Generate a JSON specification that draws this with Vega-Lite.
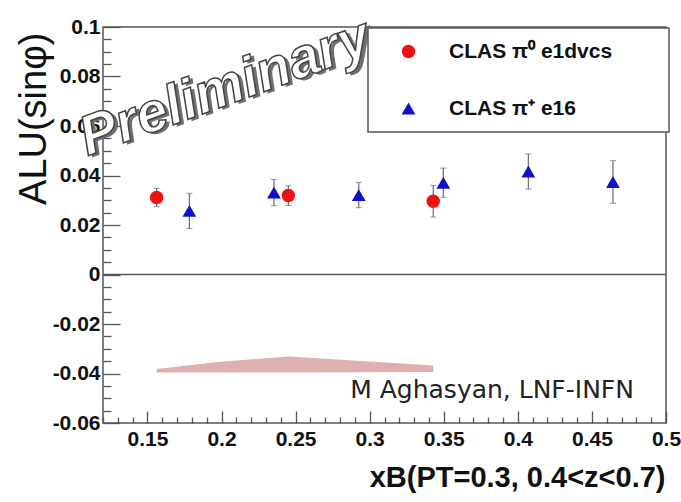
{
  "$schema": "https://vega.github.io/schema/vega-lite/v6.json",
  "width": 563,
  "height": 396,
  "autosize": {"type": "none"},
  "padding": {"left": 103, "top": 27, "right": 15, "bottom": 79},
  "background": "white",
  "datasets": {
    "points": [
      {"series": "CLAS π⁰ e1dvcs", "x": 0.1562, "y": 0.0311, "err": 0.0037},
      {"series": "CLAS π⁰ e1dvcs", "x": 0.2451, "y": 0.0319, "err": 0.0040},
      {"series": "CLAS π⁰ e1dvcs", "x": 0.3429, "y": 0.0296, "err": 0.0064},
      {"series": "CLAS π⁺ e16", "x": 0.1783, "y": 0.0257, "err": 0.0071},
      {"series": "CLAS π⁺ e16", "x": 0.2354, "y": 0.0331, "err": 0.0053},
      {"series": "CLAS π⁺ e16", "x": 0.2926, "y": 0.0321, "err": 0.0051},
      {"series": "CLAS π⁺ e16", "x": 0.3497, "y": 0.0371, "err": 0.0059},
      {"series": "CLAS π⁺ e16", "x": 0.4071, "y": 0.0416, "err": 0.0071},
      {"series": "CLAS π⁺ e16", "x": 0.4642, "y": 0.0374, "err": 0.0086}
    ],
    "band": [
      {"x": 0.1562, "y": -0.0396, "y2": -0.0382},
      {"x": 0.1990, "y": -0.0396, "y2": -0.0353},
      {"x": 0.2451, "y": -0.0396, "y2": -0.0331},
      {"x": 0.3429, "y": -0.0394, "y2": -0.0368}
    ],
    "notes": [
      {"label": "M Aghasyan, LNF-INFN", "x": 0.3826, "y": -0.0499}
    ],
    "stamp": [
      {"label": "Preliminary", "x": 0.2023, "y": 0.0754}
    ],
    "zero": [
      {"y": 0}
    ]
  },
  "config": {
    "view": {"stroke": "#555", "strokeWidth": 1.5},
    "font": "Liberation Sans",
    "legend": {"strokeWidth": 1.5}
  },
  "encoding": {
    "x": {
      "field": "x", "type": "quantitative",
      "scale": {"domain": [0.12, 0.5], "nice": false, "zero": false},
      "axis": {
        "values": [0.12,0.13,0.14,0.15,0.16,0.17,0.18,0.19,0.2,0.21,0.22,0.23,0.24,0.25,0.26,0.27,0.28,0.29,0.3,0.31,0.32,0.33,0.34,0.35,0.36,0.37,0.38,0.39,0.4,0.41,0.42,0.43,0.44,0.45,0.46,0.47,0.48,0.49,0.5],
        "labelExpr": "abs(datum.value*20 - round(datum.value*20)) < 1e-6 ? toString(datum.value) : ''",
        "tickSize": {"condition": {"test": "abs(datum.value*20 - round(datum.value*20)) < 1e-6", "value": -12}, "value": -6},
        "tickColor": "#555",
        "tickWidth": 1.3,
        "domain": false,
        "grid": false,
        "labelFont": "Liberation Sans",
        "labelFontWeight": "bold",
        "labelFontSize": 21,
        "labelColor": "#111",
        "labelFlush": false,
        "labelOverlap": false,
        "labelBound": false,
        "labelPadding": 17,
        "title": "xB(PT=0.3, 0.4<z<0.7)",
        "titleColor": "#111",
        "titleFont": "Liberation Sans",
        "titleFontWeight": "bold",
        "titleFontSize": 29,
        "titleX": 562,
        "titleY": 63,
        "titleAlign": "right",
        "titleBaseline": "alphabetic"
      }
    },
    "y": {
      "field": "y", "type": "quantitative",
      "scale": {"domain": [-0.06, 0.1], "nice": false, "zero": false},
      "axis": {
        "values": [-0.06,-0.055,-0.05,-0.045,-0.04,-0.035,-0.03,-0.025,-0.02,-0.015,-0.01,-0.005,0,0.005,0.01,0.015,0.02,0.025,0.03,0.035,0.04,0.045,0.05,0.055,0.06,0.065,0.07,0.075,0.08,0.085,0.09,0.095,0.1],
        "labelExpr": "abs(datum.value*50 - round(datum.value*50)) < 1e-6 ? toString(datum.value) : ''",
        "tickSize": {"condition": {"test": "abs(datum.value*50 - round(datum.value*50)) < 1e-6", "value": -17}, "value": -8},
        "tickColor": "#555",
        "tickWidth": 1.3,
        "domain": false,
        "grid": false,
        "labelFont": "Liberation Sans",
        "labelFontWeight": "bold",
        "labelFontSize": 21,
        "labelColor": "#111",
        "labelFlush": false,
        "labelOverlap": false,
        "labelBound": false,
        "labelPadding": 20,
        "labelLimit": 300,
        "title": "ALU(sinφ)",
        "titleColor": "#111",
        "titleFont": "Liberation Sans",
        "titleFontWeight": "normal",
        "titleFontSize": 38,
        "titleAngle": 270,
        "titleX": -58,
        "titleY": 5,
        "titleAlign": "right",
        "titleBaseline": "alphabetic"
      }
    }
  },
  "layer": [
    {
      "data": {"name": "band"},
      "mark": {"type": "area", "color": "#d9a2a2", "opacity": 0.85},
      "encoding": {"y2": {"field": "y2"}}
    },
    {
      "data": {"name": "zero"},
      "mark": {"type": "rule", "color": "#555", "strokeWidth": 1.5},
      "encoding": {"x": null}
    },
    {
      "data": {"name": "points"},
      "mark": {"type": "errorbar", "ticks": {"size": 6, "color": "#6a6a80"}, "rule": {"color": "#6a6a80", "strokeWidth": 1.2}},
      "encoding": {"yError": {"field": "err"}}
    },
    {
      "data": {"name": "points"},
      "mark": {"type": "point", "filled": true, "opacity": 1},
      "encoding": {
        "color": {
          "field": "series", "type": "nominal",
          "scale": {"domain": ["CLAS π⁰ e1dvcs", "CLAS π⁺ e16"], "range": ["#ee1111", "#1111cc"]},
          "legend": {
            "orient": "none",
            "legendX": 265,
            "legendY": 1,
            "title": "\u2800",
            "titleOrient": "right",
            "titlePadding": 38,
            "titleFontSize": 8,
            "padding": 13,
            "symbolOffset": 17,
            "rowPadding": 35,
            "labelOffset": 30,
            "labelFont": "Liberation Sans",
            "labelFontWeight": "bold",
            "labelFontSize": 21,
            "labelColor": "#111",
            "labelLimit": 500,
            "strokeColor": "#555",
            "fillColor": "white",
            "symbolStrokeWidth": 0,
            "symbolSize": 120
          }
        },
        "shape": {
          "field": "series", "type": "nominal",
          "scale": {"domain": ["CLAS π⁰ e1dvcs", "CLAS π⁺ e16"], "range": ["circle", "triangle-up"]},
          "legend": {
            "orient": "none",
            "legendX": 265,
            "legendY": 1,
            "title": "\u2800",
            "titleOrient": "right",
            "titlePadding": 38,
            "titleFontSize": 8,
            "padding": 13,
            "symbolOffset": 17,
            "rowPadding": 35,
            "labelOffset": 30,
            "labelFont": "Liberation Sans",
            "labelFontWeight": "bold",
            "labelFontSize": 21,
            "labelColor": "#111",
            "labelLimit": 500,
            "strokeColor": "#555",
            "fillColor": "white",
            "symbolStrokeWidth": 0,
            "symbolSize": 120
          }
        },
        "size": {
          "field": "series", "type": "nominal",
          "scale": {"domain": ["CLAS π⁰ e1dvcs", "CLAS π⁺ e16"], "range": [180, 190]},
          "legend": null
        }
      }
    },
    {
      "data": {"name": "notes"},
      "mark": {"type": "text", "font": "DejaVu Sans", "fontSize": 25, "color": "#222", "align": "center", "baseline": "alphabetic"},
      "encoding": {"text": {"field": "label"}}
    },
    {
      "data": {"name": "stamp"},
      "mark": {"type": "text", "font": "Liberation Sans", "fontSize": 56, "fontWeight": "bold", "fontStyle": "italic", "color": "#6f6f6f", "align": "center", "baseline": "middle", "angle": -20, "dx": 3, "dy": 3},
      "encoding": {"text": {"field": "label"}}
    },
    {
      "data": {"name": "stamp"},
      "mark": {"type": "text", "font": "Liberation Sans", "fontSize": 56, "fontWeight": "bold", "fontStyle": "italic", "fill": "white", "stroke": "#444", "strokeWidth": 1.5, "align": "center", "baseline": "middle", "angle": -20},
      "encoding": {"text": {"field": "label"}}
    }
  ]
}
